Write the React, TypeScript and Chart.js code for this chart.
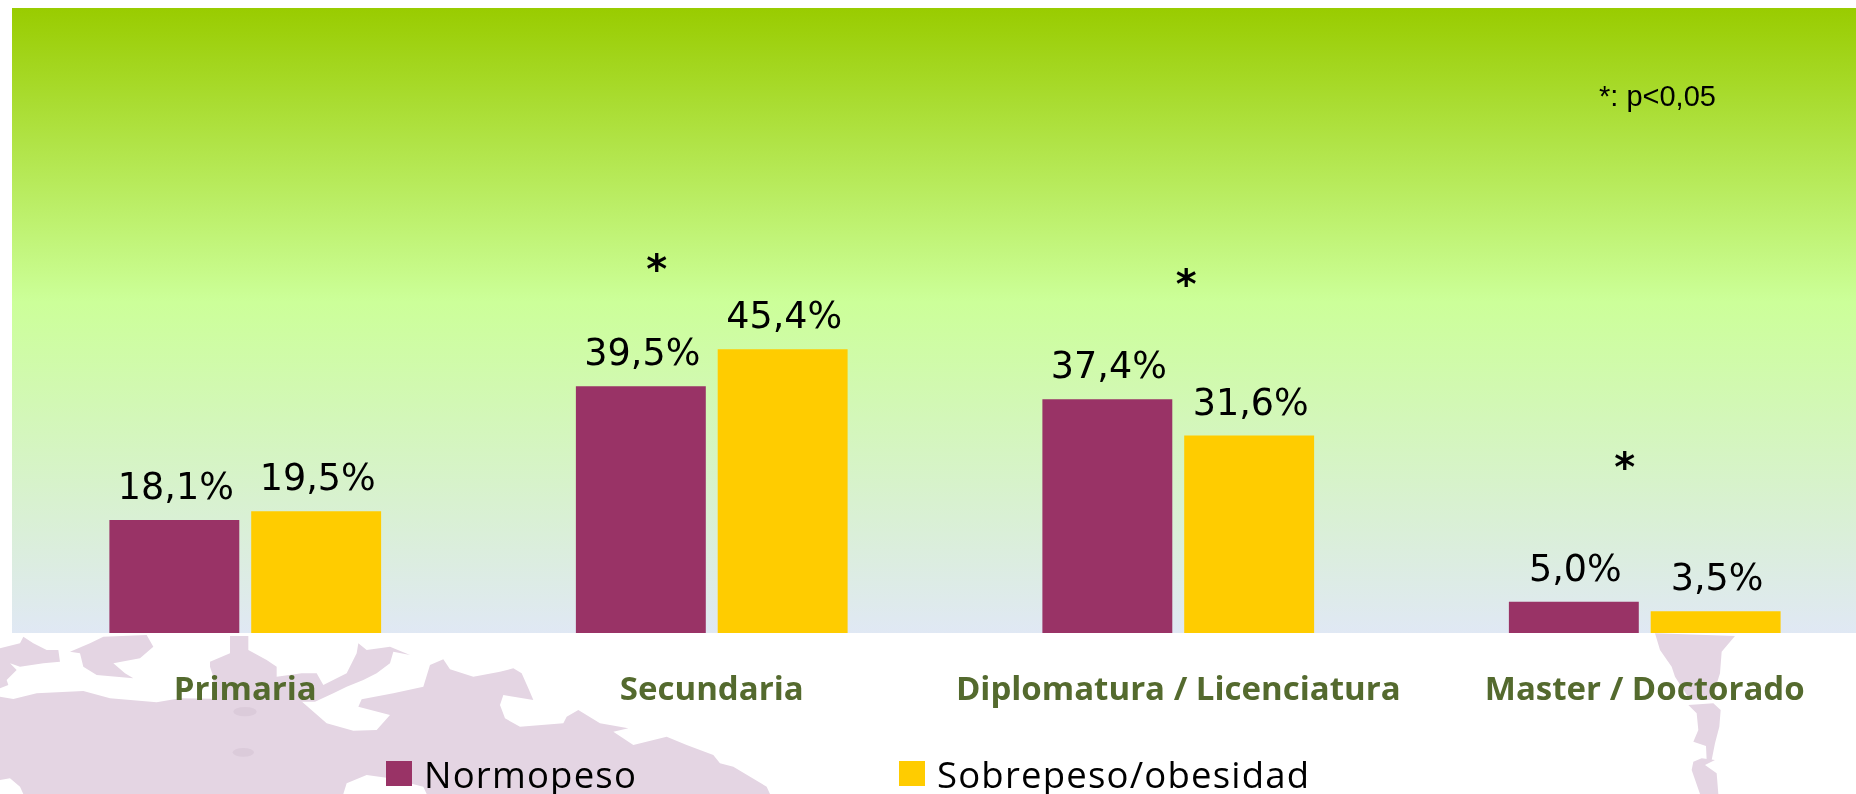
import React, { useEffect, useRef } from "react";
import { Chart, registerables } from "chart.js";

Chart.register(...registerables);

const categories = ["Primaria", "Secundaria", "Diplomatura / Licenciatura", "Master / Doctorado"];
const normopeso = [18.1, 39.5, 37.4, 5.0];
const sobrepeso = [19.5, 45.4, 31.6, 3.5];
const seriesNames = ["Normopeso", "Sobrepeso/obesidad"];
const seriesColors = ["#993366", "#FFCC00"];
const footnote = "*: p<0,05";
// significance marks: value height on the axis, and offset from the category centre as a share of the category band
const starValues = [null, 57.6, 55.2, 26];
const starOffsets = [0, -0.118, 0.017, -0.043];

const FONT_LABEL = '"DejaVu Sans"';
const FONT_TICK = '"Open Sans"';

const decor: any = {
  id: "decor",
  beforeDraw(chart: any) {
    const { ctx, chartArea: a } = chart;
    const g = ctx.createLinearGradient(0, a.top, 0, a.bottom);
    g.addColorStop(0, "#99CC00");
    g.addColorStop(0.47, "#CCFF99");
    g.addColorStop(1, "#E0E8F4");
    ctx.save();
    ctx.fillStyle = g;
    ctx.fillRect(a.left, a.top, a.right - a.left, a.bottom - a.top);
    ctx.restore();
  },
  afterDatasetsDraw(chart: any) {
    const { ctx } = chart;
    const xs = chart.scales.x;
    const ys = chart.scales.y;
    ctx.save();
    // value labels
    ctx.fillStyle = "#000";
    ctx.font = `36.5px ${FONT_LABEL}`;
    ctx.textAlign = "center";
    ctx.textBaseline = "alphabetic";
    chart.data.datasets.forEach((ds: any, di: number) => {
      chart.getDatasetMeta(di).data.forEach((bar: any, i: number) => {
        const t = ds.data[i].toFixed(1).replace(".", ",") + "%";
        ctx.fillText(t, bar.x + 1.5, bar.y - 21);
      });
    });
    // significance stars
    const band = xs.getPixelForValue(1) - xs.getPixelForValue(0);
    ctx.font = `bold 40px ${FONT_LABEL}`;
    ctx.textBaseline = "middle";
    starValues.forEach((v, i) => {
      if (v == null) return;
      ctx.fillText("*", xs.getPixelForValue(i) + starOffsets[i] * band, ys.getPixelForValue(v));
    });
    // footnote
    ctx.font = '29px "Liberation Sans"';
    ctx.textAlign = "left";
    ctx.textBaseline = "alphabetic";
    ctx.fillText(footnote, 1599, 106);
    // legend
    const legendX = [386, 899];
    ctx.font = `36.5px ${FONT_TICK}`;
    (ctx as any).letterSpacing = "1.2px";
    chart.data.datasets.forEach((ds: any, di: number) => {
      ctx.fillStyle = ds.backgroundColor;
      ctx.fillRect(legendX[di], 761, 26, 25);
      ctx.fillStyle = "#000";
      ctx.fillText(ds.label, legendX[di] + 38, 788);
    });
    ctx.restore();
  },
};

const MAP = "#E4D5E3";

function MapBackdrop() {
  return (
    <svg width={1856} height={794} style={{ position: "absolute", left: 0, top: 0, filter: "blur(0.6px)" }}>
      <g transform="translate(0 630) scale(0.33333)" fill={MAP}>
        <polygon points="0,200 40,207 110,190 250,183 330,205 470,217 540,205 900,210 925,232 980,280 1060,302 1130,300 1170,255 1075,230 1085,208 1180,190 1270,170 1290,105 1330,88 1350,118 1420,140 1500,125 1540,115 1565,130 1585,175 1600,210 1510,195 1500,225 1515,265 1560,290 1690,280 1700,260 1735,240 1800,280 1885,295 1840,305 1900,345 2000,320 2060,345 2140,375 2160,400 2200,410 2300,470 2310,492 1280,492 1270,470 1170,445 1100,435 1040,460 1030,492 70,492 60,470 30,445 0,450" />
        <polygon points="0,55 60,40 70,20 100,40 140,60 175,60 180,95 130,100 60,110 30,100 50,120 20,150 25,165 0,175" />
        <polygon points="210,65 270,40 310,20 440,15 460,50 420,85 340,100 375,130 400,145 290,135 250,110 240,70" />
        <polygon points="690,18 745,18 745,60 800,90 830,110 830,140 905,130 950,130 970,165 1040,130 1070,70 1075,40 1100,60 1170,50 1230,75 1180,65 1170,100 1130,130 1090,150 1040,170 1000,190 945,215 850,215 640,215 640,140 630,110 630,95 690,70" />
        <ellipse cx={735} cy={245} rx={35} ry={14} fill="#DBCBDA" />
        <ellipse cx={730} cy={367} rx={32} ry={13} fill="#DBCBDA" />
      </g>
      <g transform="translate(1600 630) scale(0.33333)" fill={MAP}>
        <polygon points="165,10 405,18 365,65 360,130 335,210 270,210 225,140 215,110 180,60" />
        <polygon points="265,225 340,220 362,240 358,290 345,340 335,390 320,390 318,348 280,335 295,300 290,250" />
        <polygon points="280,395 305,385 345,390 315,405 350,430 355,492 300,492 275,420" />
      </g>
    </svg>
  );
}

export default function App() {
  const ref = useRef<HTMLCanvasElement>(null);
  useEffect(() => {
    const chart = new Chart(ref.current!, {
      type: "bar",
      data: {
        labels: categories,
        datasets: [
          { label: seriesNames[0], data: normopeso, backgroundColor: seriesColors[0] },
          { label: seriesNames[1], data: sobrepeso, backgroundColor: seriesColors[1] },
        ],
      },
      options: {
        animation: false,
        responsive: false,
        layout: { padding: { left: 12, right: 22, top: 8, bottom: 0 } },
        datasets: { bar: { categoryPercentage: 0.608, barPercentage: 0.916 } },
        plugins: { legend: { display: false }, tooltip: { enabled: false } },
        scales: {
          x: {
            grid: { display: false },
            border: { display: false },
            afterFit(axis: any) {
              axis.height = 161;
            },
            ticks: {
              color: "#546A2E",
              padding: 30,
              maxRotation: 0,
              autoSkip: false,
              font: { family: FONT_TICK, size: 33, weight: "bold" },
            },
          },
          y: { display: false, min: 0, max: 100 },
        },
      } as any,
      plugins: [decor],
    });
    return () => chart.destroy();
  }, []);
  return (
    <div style={{ position: "absolute", left: 0, top: 0, width: 1856, height: 794, overflow: "hidden", background: "#fff" }}>
      <MapBackdrop />
      <canvas ref={ref} width={1900} height={794} style={{ position: "absolute", left: 0, top: 0, width: 1900, height: 794 }} />
    </div>
  );
}
